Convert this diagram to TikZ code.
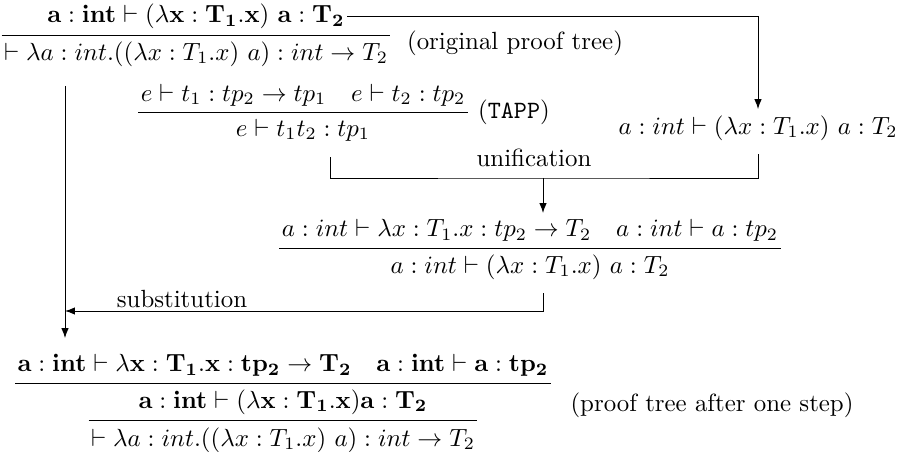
\documentclass[tikz,border=0pt]{standalone}
\usepackage{amsmath,amssymb}
\usepackage{tikz}
\usetikzlibrary{arrows.meta,positioning,calc}

\begin{document}
\begin{tikzpicture}[
    x=0.402pt, y=-0.402pt,
    node distance=0pt,
    judg/.style={inner xsep=1pt, inner ysep=2.6pt, outer sep=0pt},
    note/.style={inner sep=1pt},
    rulebar/.style={line width=0.4pt},
    arrow/.style={-{Latex[length=4pt,width=3pt]}, line width=0.4pt}
]
\useasboundingbox (0,0) rectangle (901,452);

\node[judg] (c0) at (196,54) {$\vdash \lambda a : int.((\lambda x : T_1.x)\ a) : int \rightarrow T_2$};
\node[judg, above=of c0] (p0) {$\mathbf{a : int \vdash (\lambda x : T_1.x)\ a : T_2}$};
\draw[rulebar] (c0.north west) -- (c0.north east);
\node[note] (orig) at (515,43) {(original proof tree)};

\node[judg] (c1) at (303,130) {$e \vdash t_1t_2 : tp_1$};
\node[judg, above=of c1] (p1) {$e \vdash t_1 : tp_2 \rightarrow tp_1 \quad e \vdash t_2 : tp_2$};
\draw[rulebar] (c1.north -| p1.west) -- (c1.north -| p1.east);
\node[note, right=3pt of c1.north -| p1.east] (tapp) {(\texttt{TAPP})};

\node[judg] (r1) at (758,128) {$a : int \vdash (\lambda x : T_1.x)\ a : T_2$};

\node[judg] (c2) at (530,267) {$a : int \vdash (\lambda x : T_1.x)\ a : T_2$};
\node[judg, above=of c2] (p2) {$a : int \vdash \lambda x : T_1.x : tp_2 \rightarrow T_2 \quad a : int \vdash a : tp_2$};
\draw[rulebar] (c2.north -| p2.west) -- (c2.north -| p2.east);

\node[judg] (m3) at (283,402) {$\mathbf{a : int \vdash (\lambda x : T_1.x) a : T_2}$};
\node[judg, above=of m3] (p3) {$\mathbf{a : int \vdash \lambda x : T_1.x : tp_2 \rightarrow T_2 \quad a : int \vdash a : tp_2}$};
\node[judg, below=of m3] (c3) {$\vdash \lambda a : int.((\lambda x : T_1.x)\ a) : int \rightarrow T_2$};
\draw[rulebar] (m3.north -| p3.west) -- (m3.north -| p3.east);
\draw[rulebar] (c3.north west) -- (c3.north east);
\node[note] (after) at (712,405) {(proof tree after one step)};

\coordinate (lft) at (65,86);
\coordinate (unif) at (543,178);
\coordinate (subst) at (65,311);

\draw[arrow] (p0.east) -| (r1.north);
\draw[shorten <=4pt, shorten >=3pt] ($(c1.south)+(27,0)$) |- (unif) -| (r1.south);
\draw[arrow] (unif) -- (unif |- p2.north);
\node[note] (ulab) at (534,158) {unification};
\draw[arrow, shorten <=3pt] (c2.south -| unif) |- (subst);
\node[note] (slab) at (182,299) {substitution};
\draw[arrow, shorten >=4pt] (lft) -- (lft |- p3.north);
\end{tikzpicture}
\end{document}
